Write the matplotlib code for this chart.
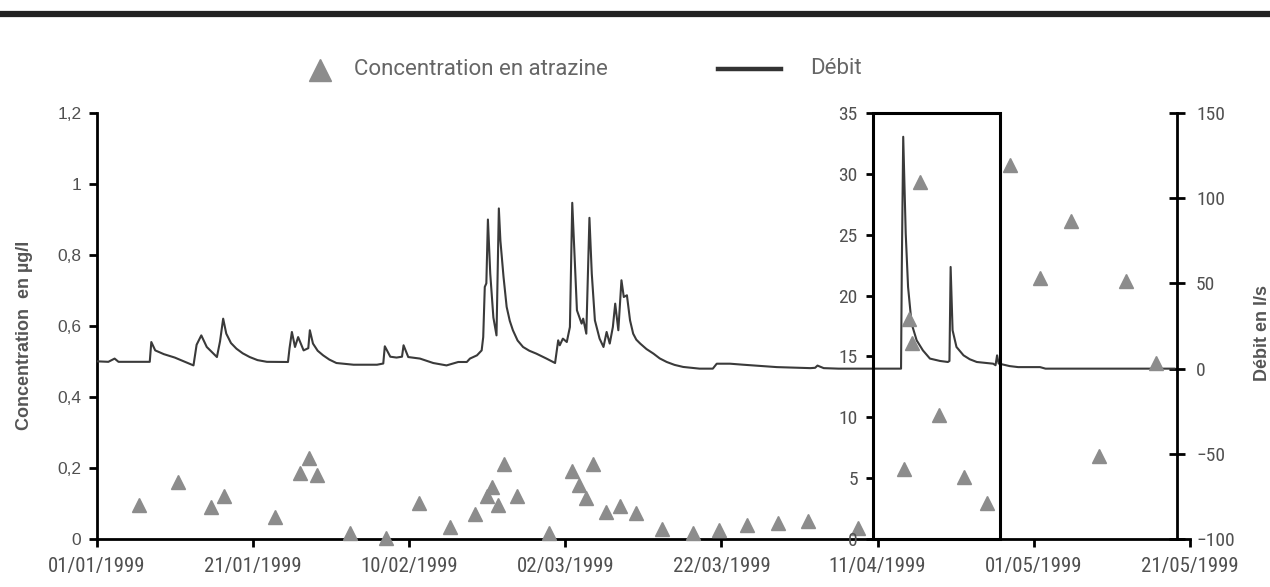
#!/usr/bin/env python3

from matplotlib import pyplot as plt
from matplotlib import dates as mdates
from matplotlib import font_manager
from matplotlib.lines import Line2D
from matplotlib.patches import Rectangle
from matplotlib.ticker import FuncFormatter
import numpy as np
import pandas as pd

# origin of the time axis; all series are given in days since this date
T0 = pd.Timestamp('1999-01-01')

# flow (Débit, l/s)
debit_jour = [0.0, 1.5, 2.3, 2.8, 6.8, 7.0, 7.5, 8.6, 10.0, 11.3, 12.4, 12.8,
              13.4, 14.1, 15.4, 15.8, 16.2, 16.6, 17.2, 17.9, 18.7, 19.6, 20.6,
              21.8, 24.5, 24.7, 25.0, 25.4, 25.8, 26.5, 27.1, 27.3, 27.7, 28.3,
              29.0, 29.8, 30.7, 32.9, 35.9, 36.7, 36.9, 37.6, 38.4, 39.1, 39.3,
              39.9, 41.4, 43.1, 44.8, 46.3, 47.4, 47.8, 48.7, 49.3, 49.5, 49.7,
              49.9, 50.1, 50.4, 50.8, 51.2, 51.5, 51.7, 52.1, 52.5, 52.9, 53.3,
              53.9, 54.6, 55.4, 56.3, 57.6, 58.7, 59.1, 59.3, 59.7, 60.2, 60.6,
              60.9, 61.5, 62.1, 62.3, 62.7, 63.1, 63.4, 63.8, 64.4, 64.9, 65.3,
              65.7, 66.1, 66.4, 66.8, 67.2, 67.5, 67.9, 68.3, 68.7, 69.1, 69.6,
              70.4, 71.3, 72.1, 73.0, 74.0, 75.1, 77.2, 78.9, 79.4, 81.1, 82.8,
              87.1, 91.4, 92.0, 92.3, 93.1, 95.0, 103.0, 103.1, 103.28, 103.6,
              103.9, 104.35, 105.0, 105.8, 106.7, 108.0, 109.0, 109.2, 109.35,
              109.6, 110.1, 111.0, 111.8, 112.7, 114.8, 115.1, 115.3, 115.5,
              116.9, 118.0, 120.8, 121.5, 138.0]
debit_ls = [4.3, 4.0, 5.9, 4.0, 4.0, 15.6, 10.7, 8.5, 6.5, 4.0, 1.9, 14.0,
            19.5, 12.7, 6.8, 16.0, 29.3, 20.5, 15.0, 11.7, 9.0, 6.8, 5.0,
            4.0, 3.9, 12.0, 21.5, 12.7, 18.5, 10.7, 12.0, 22.5, 14.7, 10.5,
            7.8, 5.3, 3.3, 2.3, 2.3, 3.0, 13.1, 7.0, 6.5, 7.0, 13.7,
            6.8, 5.9, 3.3, 1.9, 3.9, 3.9, 5.9, 7.8, 10.7, 18.5, 47.9,
            50.0, 87.4, 55.7, 30.0, 19.5, 93.9, 75.0, 53.8, 36.2, 28.0, 22.5,
            16.5, 12.7, 10.5, 8.8, 5.9, 3.3, 16.6, 13.7, 17.6, 15.6, 24.4,
            97.2, 34.2, 26.4, 29.3, 20.5, 88.4, 55.7, 28.3, 17.6, 12.7, 21.5,
            14.7, 24.4, 38.1, 22.5, 51.8, 42.0, 43.0, 28.3, 20.5, 17.0, 14.7,
            11.5, 8.8, 6.0, 3.9, 2.2, 1.0, 0.0, 0.0, 2.9, 2.9, 2.3,
            0.9, 0.3, 0.5, 1.8, 0.3, 0.0, 0.0, 60.0, 135.9, 79.2,
            47.9, 26.4, 16.6, 10.7, 5.9, 4.5, 3.9, 4.5, 59.6,
            22.5, 12.7, 7.8, 5.5, 3.9, 2.9, 2.0, 7.8, 3.0,
            1.5, 0.9, 0.9, 0.0, 0.0]

# atrazine samples, first period (left scale, µg/l)
conc1_jour = [5.45, 10.45, 14.6, 16.3, 22.8, 26.0, 27.2, 28.2, 32.5, 37.0,
              41.3, 45.2, 48.4, 50.0, 50.6, 51.4, 52.2, 53.8, 57.9, 60.9,
              61.8, 62.7, 63.6, 65.2, 67.0, 69.1, 72.4, 76.3, 79.75, 83.3,
              87.3, 91.1, 97.5]
conc1_ugl = [0.097, 0.162, 0.090, 0.122, 0.064, 0.186, 0.228, 0.181, 0.019,
             0.003, 0.103, 0.035, 0.071, 0.122, 0.146, 0.096, 0.212, 0.122,
             0.019, 0.193, 0.153, 0.115, 0.212, 0.078, 0.094, 0.075, 0.028,
             0.019, 0.025, 0.040, 0.045, 0.052, 0.031]

# atrazine samples, second period (middle scale 0-35, µg/l)
conc2_jour = [103.4, 104.0, 104.4, 105.4, 107.9, 111.0, 114.0, 116.9, 120.8,
              124.8, 128.4, 131.8, 135.7]
conc2_ugl = [5.8, 18.1, 16.1, 29.3, 10.2, 5.1, 3.0, 30.7, 21.4, 26.1, 6.8,
             21.2, 14.5]

x_ticks = ['1999-01-01', '1999-01-21', '1999-02-10', '1999-03-02',
           '1999-03-22', '1999-04-11', '1999-05-01', '1999-05-21']
conc1_ticks = [0, 0.2, 0.4, 0.6, 0.8, 1.0, 1.2]
conc2_ticks = [0, 5, 10, 15, 20, 25, 30, 35]
debit_ticks = [-100, -50, 0, 50, 100, 150]

box_debut = pd.Timestamp('1999-04-10 10:00')
box_fin = pd.Timestamp('1999-04-26 17:00')
axe_droit = pd.Timestamp('1999-05-19 07:00')


def to_dates(days):
    return T0 + pd.to_timedelta(np.asarray(days), unit='D')


def main():
    installed = {f.name for f in font_manager.fontManager.ttflist}
    if 'Roboto Condensed' in installed:
        date_font, date_size, num_size = 'Roboto Condensed', 15, 14
    else:
        date_font, date_size, num_size = 'Roboto', 13, 12.5
    tick_font = 'Roboto'
    label_font = ['Liberation Sans', 'DejaVu Sans']
    grey = '#505050'

    fig = plt.figure(figsize=(12.7, 5.87), dpi=100)
    ax = fig.add_axes([0.0761, 0.0813, 0.8609, 0.7267])

    xmin = mdates.date2num(pd.Timestamp(x_ticks[0]))
    xmax = mdates.date2num(pd.Timestamp(x_ticks[-1]))

    # left axis: concentration, first period
    ax.set_xlim(xmin, xmax)
    ax.set_ylim(0, 1.2)
    ax.plot(to_dates(conc1_jour), conc1_ugl, linestyle='none', marker='^',
            markersize=10, color='#8c8c8c', clip_on=False, zorder=3)
    ax.set_yticks(conc1_ticks)
    ax.yaxis.set_major_formatter(FuncFormatter(lambda v, p: f'{v:g}'.replace('.', ',')))
    ax.set_xticks([mdates.date2num(pd.Timestamp(d)) for d in x_ticks])
    ax.xaxis.set_major_formatter(mdates.DateFormatter('%d/%m/%Y'))
    ax.tick_params(axis='x', length=6, width=2, pad=7, labelsize=date_size,
                   labelcolor=grey)
    ax.tick_params(axis='y', length=6, width=2, pad=5, labelsize=12.5,
                   labelcolor=grey)
    for lab in ax.get_xticklabels():
        lab.set_fontfamily(date_font)
    for lab in ax.get_yticklabels():
        lab.set_fontfamily(label_font)
    ax.spines['top'].set_visible(False)
    ax.spines['right'].set_visible(False)
    for s in ('left', 'bottom'):
        ax.spines[s].set_linewidth(2)
    ax.set_ylabel('Concentration  en µg/l', fontsize=13, color='#555555',
                  family=label_font, fontweight='bold')
    ax.yaxis.set_label_coords(-0.058, 0.479)

    # right axis: flow
    ax2 = ax.twinx()
    ax2.set_ylim(-100, 150)
    ax2.plot(to_dates(debit_jour), debit_ls, color='#3a3a3a', linewidth=1.5)
    ax2.set_yticks(debit_ticks)
    frac_droit = (mdates.date2num(axe_droit) - xmin) / (xmax - xmin)
    ax2.spines['right'].set_position(('axes', frac_droit))
    ax2.spines['right'].set_linewidth(2)
    for s in ('left', 'top', 'bottom'):
        ax2.spines[s].set_visible(False)
    ax2.tick_params(axis='y', direction='inout', length=12, width=2, pad=8,
                    labelsize=num_size, labelcolor=grey)
    for lab in ax2.get_yticklabels():
        lab.set_fontfamily(date_font)
    ax2.set_ylabel('Débit en l/s', fontsize=13, color='#555555',
                   family=label_font, fontweight='bold')
    ax2.yaxis.set_label_coords(1.059, 0.484)

    # middle axis: concentration, second period
    ax3 = ax.twinx()
    ax3.set_ylim(0, 35)
    ax3.plot(to_dates(conc2_jour), conc2_ugl, linestyle='none', marker='^',
             markersize=10, color='#8c8c8c', clip_on=False, zorder=3)
    ax3.set_yticks(conc2_ticks)
    x_box = mdates.date2num(box_debut)
    frac_mid = (x_box - xmin) / (xmax - xmin)
    for s in ('right', 'top', 'bottom'):
        ax3.spines[s].set_visible(False)
    ax3.spines['left'].set_visible(True)
    ax3.spines['left'].set_position(('axes', frac_mid))
    ax3.spines['left'].set_linewidth(2)
    ax3.yaxis.set_ticks_position('left')
    ax3.tick_params(axis='y', length=5, width=2, pad=6, labelsize=num_size,
                    labelcolor=grey)
    for lab in ax3.get_yticklabels():
        lab.set_fontfamily(date_font)

    # highlighted period
    ax3.add_patch(Rectangle((x_box, 0), mdates.date2num(box_fin) - x_box, 35,
                            fill=False, edgecolor='black', linewidth=2.2,
                            clip_on=False, zorder=5))

    # thick rule at the top of the figure
    fig.add_artist(Line2D([0, 1], [0.977, 0.977], transform=fig.transFigure,
                          color='#222222', linewidth=4.5))

    # legend
    fig.add_artist(Line2D([0.252], [0.881], transform=fig.transFigure,
                          marker='^', markersize=16, color='#8c8c8c',
                          linestyle='none'))
    fig.text(0.2787, 0.881, 'Concentration en atrazine', family=tick_font,
             fontsize=16, color='#666666', va='center', ha='left')
    fig.add_artist(Line2D([0.5654, 0.615], [0.883, 0.883],
                          transform=fig.transFigure, color='#333333',
                          linewidth=3.2))
    fig.text(0.638, 0.883, 'Débit', family=tick_font, fontsize=16,
             color='#666666', va='center', ha='left')

    plt.savefig('out.png', dpi=100)


if __name__ == '__main__':
    main()
